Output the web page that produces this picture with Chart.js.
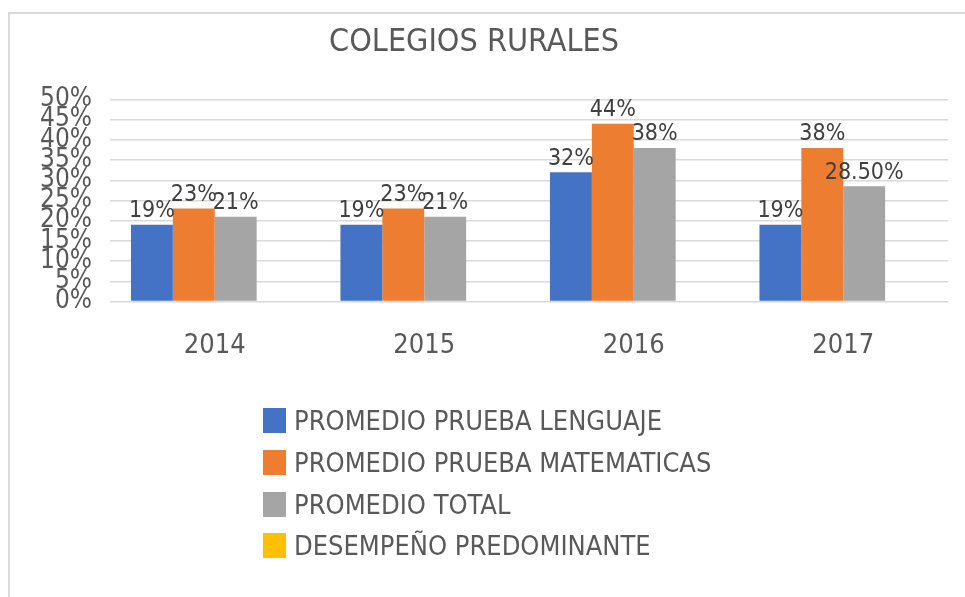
<!DOCTYPE html>
<html>
<head>
<meta charset="utf-8">
<title>Colegios rurales</title>
<script src="https://cdn.jsdelivr.net/npm/chart.js@4.4.1/dist/chart.umd.min.js"></script>
<style>
    html, body { margin: 0; padding: 0; background: #fff; }
    body { width: 965px; height: 597px; position: relative; overflow: hidden; }
    .frame {
        position: absolute; left: 8px; top: 12px; right: 0; bottom: 0;
        border-left: 2px solid #d9d9d9; border-top: 2px solid #d9d9d9;
    }
    #chart { position: absolute; left: 0; top: 0; }
    #legend {
        position: absolute; left: 263px; top: 400px;
        font-family: 'DejaVu Sans Condensed', 'DejaVu Sans', sans-serif;
        font-size: 27px; color: #595959;
    }
    #legend .item { display: flex; align-items: center; height: 41.7px; white-space: nowrap; }
    #legend .box { width: 23px; height: 25px; margin-right: 8px; flex: none; }
</style>
</head>
<body>
<div class="frame"></div>
<canvas id="chart" width="965" height="597"></canvas>
<div id="legend"></div>

<script>
// ====================================
// DATA
// ====================================
const years = ['2014', '2015', '2016', '2017'];
const lenguaje = [19, 19, 32, 19];
const matematicas = [23, 23, 44, 38];
const total = [21, 21, 38, 28.5];
const desempeno = [null, null, null, null];
const seriesNames = [
    'PROMEDIO PRUEBA LENGUAJE',
    'PROMEDIO PRUEBA MATEMATICAS',
    'PROMEDIO TOTAL',
    'DESEMPEÑO PREDOMINANTE'
];
const seriesColors = ['#4472C4', '#ED7D31', '#A5A5A5', '#FFC000'];
const yTicks = [0, 5, 10, 15, 20, 25, 30, 35, 40, 45, 50];

const FONT = "'DejaVu Sans Condensed', 'DejaVu Sans', sans-serif";

// 28.5 shows as 28.50%, whole numbers without decimals
function fmtPct(v) {
    return Number.isInteger(v) ? v + '%' : v.toFixed(2) + '%';
}

// Value labels on top of each bar
const barLabels = {
    id: 'barLabels',
    afterDatasetsDraw(chart) {
        const ctx = chart.ctx;
        ctx.save();
        ctx.font = '23px ' + FONT;
        ctx.fillStyle = '#404040';
        ctx.textAlign = 'center';
        ctx.textBaseline = 'bottom';
        chart.data.datasets.forEach((ds, i) => {
            const meta = chart.getDatasetMeta(i);
            meta.data.forEach((bar, j) => {
                const v = ds.data[j];
                if (v == null) return;
                ctx.fillText(fmtPct(v), bar.x, bar.y - 2);
            });
        });
        ctx.restore();
    }
};

Chart.defaults.font.family = FONT;
Chart.defaults.color = '#595959';

const chart = new Chart(document.getElementById('chart'), {
    type: 'bar',
    data: {
        labels: years,
        datasets: [lenguaje, matematicas, total, desempeno].map((d, i) => ({
            label: seriesNames[i],
            data: d,
            backgroundColor: seriesColors[i],
            borderWidth: 0,
            categoryPercentage: 0.8,
            barPercentage: 1.0
        }))
    },
    options: {
        responsive: false,
        animation: false,
        layout: {
            padding: { left: 0, right: 17, top: 0, bottom: 207 }
        },
        plugins: {
            legend: { display: false },
            tooltip: { enabled: false },
            title: {
                display: true,
                text: 'COLEGIOS RURALES',
                color: '#595959',
                font: { size: 32, weight: 'normal' },
                padding: { top: 23, bottom: 38 }
            }
        },
        scales: {
            y: {
                min: 0,
                max: 50,
                afterBuildTicks: s => { s.ticks = yTicks.map(v => ({ value: v })); },
                afterFit: s => { s.width = 110; },
                border: { display: false },
                grid: { color: '#d9d9d9', lineWidth: 1.5, drawTicks: false },
                ticks: {
                    autoSkip: false,
                    padding: 18,
                    color: '#595959',
                    font: { size: 26 },
                    callback: v => v + '%'
                }
            },
            x: {
                border: { display: false },
                grid: { display: false, drawTicks: false },
                ticks: {
                    padding: 28,
                    color: '#595959',
                    font: { size: 27 }
                }
            }
        }
    },
    plugins: [barLabels]
});

// HTML legend, one series per row
const legendEl = document.getElementById('legend');
chart.options.plugins.legend.labels.generateLabels(chart).forEach(item => {
    const row = document.createElement('div');
    row.className = 'item';
    const box = document.createElement('span');
    box.className = 'box';
    box.style.background = item.fillStyle;
    const txt = document.createElement('span');
    txt.textContent = item.text;
    row.appendChild(box);
    row.appendChild(txt);
    legendEl.appendChild(row);
});
</script>
</body>
</html>
